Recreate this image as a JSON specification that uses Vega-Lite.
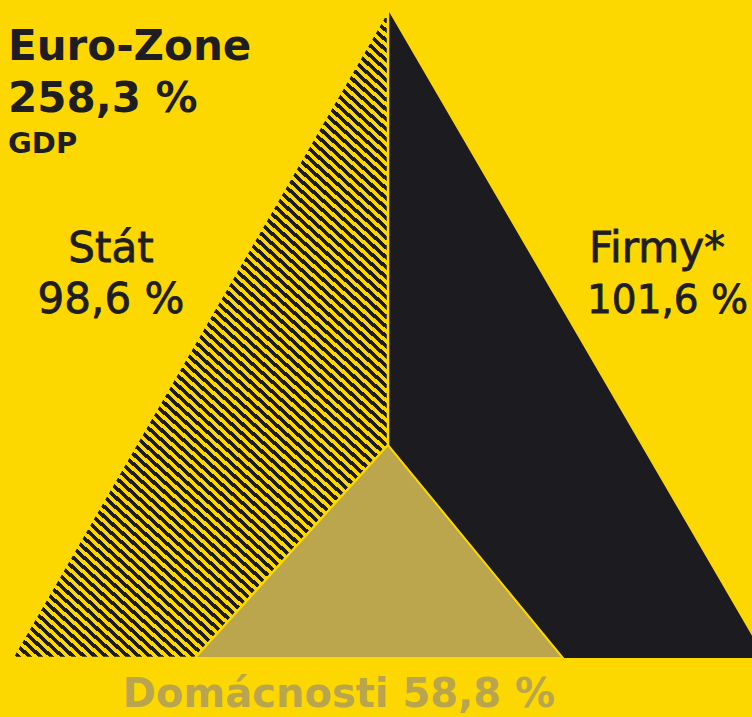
{
  "$schema": "https://vega.github.io/schema/vega-lite/v6.json",
  "width": 752,
  "height": 717,
  "autosize": {"type": "none"},
  "padding": 0,
  "background": "#fcd800",
  "config": {"view": {"stroke": null}},
  "datasets": {
    "stat": [
      {"x": 12, "top": 658, "bottom": 658},
      {"x": 195, "top": 342.6, "bottom": 658},
      {"x": 388, "top": 10, "bottom": 445}
    ],
    "firmy": [
      {"x": 388, "top": 10, "bottom": 445},
      {"x": 563, "top": 310.8, "bottom": 658},
      {"x": 765, "top": 658, "bottom": 658}
    ],
    "domacnosti": [
      {"x": 195, "top": 658, "bottom": 658},
      {"x": 388, "top": 445, "bottom": 658},
      {"x": 563, "top": 658, "bottom": 658}
    ]
  },
  "encoding": {
    "x": {"field": "x", "type": "quantitative", "scale": {"domain": [0, 752], "nice": false, "zero": false}, "axis": null},
    "y": {"field": "top", "type": "quantitative", "scale": {"domain": [717, 0], "nice": false, "zero": false}, "axis": null}
  },
  "layer": [
    {
      "data": {"name": "firmy"},
      "mark": {"type": "area", "color": "#1c1b20", "clip": true, "orient": "vertical"},
      "encoding": {"y2": {"field": "bottom"}}
    },
    {
      "data": {"name": "stat"},
      "mark": {
        "type": "area",
        "orient": "vertical",
        "stroke": "#fcd800",
        "strokeWidth": 2.5,
        "fill": {
          "gradient": "linear",
          "x1": 0, "y1": 1, "x2": 0.625, "y2": -0.196,
          "stops": [
{"offset":0,"color":"#fcd800"},{"offset":0.005,"color":"#fcd800"},{"offset":0.005,"color":"#1c1b20"},{"offset":0.01,"color":"#1c1b20"},
{"offset":0.01,"color":"#fcd800"},{"offset":0.015,"color":"#fcd800"},{"offset":0.015,"color":"#1c1b20"},{"offset":0.02,"color":"#1c1b20"},
{"offset":0.02,"color":"#fcd800"},{"offset":0.025,"color":"#fcd800"},{"offset":0.025,"color":"#1c1b20"},{"offset":0.03,"color":"#1c1b20"},
{"offset":0.03,"color":"#fcd800"},{"offset":0.035,"color":"#fcd800"},{"offset":0.035,"color":"#1c1b20"},{"offset":0.04,"color":"#1c1b20"},
{"offset":0.04,"color":"#fcd800"},{"offset":0.045,"color":"#fcd800"},{"offset":0.045,"color":"#1c1b20"},{"offset":0.05,"color":"#1c1b20"},
{"offset":0.05,"color":"#fcd800"},{"offset":0.055,"color":"#fcd800"},{"offset":0.055,"color":"#1c1b20"},{"offset":0.06,"color":"#1c1b20"},
{"offset":0.06,"color":"#fcd800"},{"offset":0.065,"color":"#fcd800"},{"offset":0.065,"color":"#1c1b20"},{"offset":0.07,"color":"#1c1b20"},
{"offset":0.07,"color":"#fcd800"},{"offset":0.075,"color":"#fcd800"},{"offset":0.075,"color":"#1c1b20"},{"offset":0.08,"color":"#1c1b20"},
{"offset":0.08,"color":"#fcd800"},{"offset":0.085,"color":"#fcd800"},{"offset":0.085,"color":"#1c1b20"},{"offset":0.09,"color":"#1c1b20"},
{"offset":0.09,"color":"#fcd800"},{"offset":0.095,"color":"#fcd800"},{"offset":0.095,"color":"#1c1b20"},{"offset":0.10,"color":"#1c1b20"},
{"offset":0.10,"color":"#fcd800"},{"offset":0.105,"color":"#fcd800"},{"offset":0.105,"color":"#1c1b20"},{"offset":0.11,"color":"#1c1b20"},
{"offset":0.11,"color":"#fcd800"},{"offset":0.115,"color":"#fcd800"},{"offset":0.115,"color":"#1c1b20"},{"offset":0.12,"color":"#1c1b20"},
{"offset":0.12,"color":"#fcd800"},{"offset":0.125,"color":"#fcd800"},{"offset":0.125,"color":"#1c1b20"},{"offset":0.13,"color":"#1c1b20"},
{"offset":0.13,"color":"#fcd800"},{"offset":0.135,"color":"#fcd800"},{"offset":0.135,"color":"#1c1b20"},{"offset":0.14,"color":"#1c1b20"},
{"offset":0.14,"color":"#fcd800"},{"offset":0.145,"color":"#fcd800"},{"offset":0.145,"color":"#1c1b20"},{"offset":0.15,"color":"#1c1b20"},
{"offset":0.15,"color":"#fcd800"},{"offset":0.155,"color":"#fcd800"},{"offset":0.155,"color":"#1c1b20"},{"offset":0.16,"color":"#1c1b20"},
{"offset":0.16,"color":"#fcd800"},{"offset":0.165,"color":"#fcd800"},{"offset":0.165,"color":"#1c1b20"},{"offset":0.17,"color":"#1c1b20"},
{"offset":0.17,"color":"#fcd800"},{"offset":0.175,"color":"#fcd800"},{"offset":0.175,"color":"#1c1b20"},{"offset":0.18,"color":"#1c1b20"},
{"offset":0.18,"color":"#fcd800"},{"offset":0.185,"color":"#fcd800"},{"offset":0.185,"color":"#1c1b20"},{"offset":0.19,"color":"#1c1b20"},
{"offset":0.19,"color":"#fcd800"},{"offset":0.195,"color":"#fcd800"},{"offset":0.195,"color":"#1c1b20"},{"offset":0.20,"color":"#1c1b20"},
{"offset":0.20,"color":"#fcd800"},{"offset":0.205,"color":"#fcd800"},{"offset":0.205,"color":"#1c1b20"},{"offset":0.21,"color":"#1c1b20"},
{"offset":0.21,"color":"#fcd800"},{"offset":0.215,"color":"#fcd800"},{"offset":0.215,"color":"#1c1b20"},{"offset":0.22,"color":"#1c1b20"},
{"offset":0.22,"color":"#fcd800"},{"offset":0.225,"color":"#fcd800"},{"offset":0.225,"color":"#1c1b20"},{"offset":0.23,"color":"#1c1b20"},
{"offset":0.23,"color":"#fcd800"},{"offset":0.235,"color":"#fcd800"},{"offset":0.235,"color":"#1c1b20"},{"offset":0.24,"color":"#1c1b20"},
{"offset":0.24,"color":"#fcd800"},{"offset":0.245,"color":"#fcd800"},{"offset":0.245,"color":"#1c1b20"},{"offset":0.25,"color":"#1c1b20"},
{"offset":0.25,"color":"#fcd800"},{"offset":0.255,"color":"#fcd800"},{"offset":0.255,"color":"#1c1b20"},{"offset":0.26,"color":"#1c1b20"},
{"offset":0.26,"color":"#fcd800"},{"offset":0.265,"color":"#fcd800"},{"offset":0.265,"color":"#1c1b20"},{"offset":0.27,"color":"#1c1b20"},
{"offset":0.27,"color":"#fcd800"},{"offset":0.275,"color":"#fcd800"},{"offset":0.275,"color":"#1c1b20"},{"offset":0.28,"color":"#1c1b20"},
{"offset":0.28,"color":"#fcd800"},{"offset":0.285,"color":"#fcd800"},{"offset":0.285,"color":"#1c1b20"},{"offset":0.29,"color":"#1c1b20"},
{"offset":0.29,"color":"#fcd800"},{"offset":0.295,"color":"#fcd800"},{"offset":0.295,"color":"#1c1b20"},{"offset":0.30,"color":"#1c1b20"},
{"offset":0.30,"color":"#fcd800"},{"offset":0.305,"color":"#fcd800"},{"offset":0.305,"color":"#1c1b20"},{"offset":0.31,"color":"#1c1b20"},
{"offset":0.31,"color":"#fcd800"},{"offset":0.315,"color":"#fcd800"},{"offset":0.315,"color":"#1c1b20"},{"offset":0.32,"color":"#1c1b20"},
{"offset":0.32,"color":"#fcd800"},{"offset":0.325,"color":"#fcd800"},{"offset":0.325,"color":"#1c1b20"},{"offset":0.33,"color":"#1c1b20"},
{"offset":0.33,"color":"#fcd800"},{"offset":0.335,"color":"#fcd800"},{"offset":0.335,"color":"#1c1b20"},{"offset":0.34,"color":"#1c1b20"},
{"offset":0.34,"color":"#fcd800"},{"offset":0.345,"color":"#fcd800"},{"offset":0.345,"color":"#1c1b20"},{"offset":0.35,"color":"#1c1b20"},
{"offset":0.35,"color":"#fcd800"},{"offset":0.355,"color":"#fcd800"},{"offset":0.355,"color":"#1c1b20"},{"offset":0.36,"color":"#1c1b20"},
{"offset":0.36,"color":"#fcd800"},{"offset":0.365,"color":"#fcd800"},{"offset":0.365,"color":"#1c1b20"},{"offset":0.37,"color":"#1c1b20"},
{"offset":0.37,"color":"#fcd800"},{"offset":0.375,"color":"#fcd800"},{"offset":0.375,"color":"#1c1b20"},{"offset":0.38,"color":"#1c1b20"},
{"offset":0.38,"color":"#fcd800"},{"offset":0.385,"color":"#fcd800"},{"offset":0.385,"color":"#1c1b20"},{"offset":0.39,"color":"#1c1b20"},
{"offset":0.39,"color":"#fcd800"},{"offset":0.395,"color":"#fcd800"},{"offset":0.395,"color":"#1c1b20"},{"offset":0.40,"color":"#1c1b20"},
{"offset":0.40,"color":"#fcd800"},{"offset":0.405,"color":"#fcd800"},{"offset":0.405,"color":"#1c1b20"},{"offset":0.41,"color":"#1c1b20"},
{"offset":0.41,"color":"#fcd800"},{"offset":0.415,"color":"#fcd800"},{"offset":0.415,"color":"#1c1b20"},{"offset":0.42,"color":"#1c1b20"},
{"offset":0.42,"color":"#fcd800"},{"offset":0.425,"color":"#fcd800"},{"offset":0.425,"color":"#1c1b20"},{"offset":0.43,"color":"#1c1b20"},
{"offset":0.43,"color":"#fcd800"},{"offset":0.435,"color":"#fcd800"},{"offset":0.435,"color":"#1c1b20"},{"offset":0.44,"color":"#1c1b20"},
{"offset":0.44,"color":"#fcd800"},{"offset":0.445,"color":"#fcd800"},{"offset":0.445,"color":"#1c1b20"},{"offset":0.45,"color":"#1c1b20"},
{"offset":0.45,"color":"#fcd800"},{"offset":0.455,"color":"#fcd800"},{"offset":0.455,"color":"#1c1b20"},{"offset":0.46,"color":"#1c1b20"},
{"offset":0.46,"color":"#fcd800"},{"offset":0.465,"color":"#fcd800"},{"offset":0.465,"color":"#1c1b20"},{"offset":0.47,"color":"#1c1b20"},
{"offset":0.47,"color":"#fcd800"},{"offset":0.475,"color":"#fcd800"},{"offset":0.475,"color":"#1c1b20"},{"offset":0.48,"color":"#1c1b20"},
{"offset":0.48,"color":"#fcd800"},{"offset":0.485,"color":"#fcd800"},{"offset":0.485,"color":"#1c1b20"},{"offset":0.49,"color":"#1c1b20"},
{"offset":0.49,"color":"#fcd800"},{"offset":0.495,"color":"#fcd800"},{"offset":0.495,"color":"#1c1b20"},{"offset":0.50,"color":"#1c1b20"},
{"offset":0.50,"color":"#fcd800"},{"offset":0.505,"color":"#fcd800"},{"offset":0.505,"color":"#1c1b20"},{"offset":0.51,"color":"#1c1b20"},
{"offset":0.51,"color":"#fcd800"},{"offset":0.515,"color":"#fcd800"},{"offset":0.515,"color":"#1c1b20"},{"offset":0.52,"color":"#1c1b20"},
{"offset":0.52,"color":"#fcd800"},{"offset":0.525,"color":"#fcd800"},{"offset":0.525,"color":"#1c1b20"},{"offset":0.53,"color":"#1c1b20"},
{"offset":0.53,"color":"#fcd800"},{"offset":0.535,"color":"#fcd800"},{"offset":0.535,"color":"#1c1b20"},{"offset":0.54,"color":"#1c1b20"},
{"offset":0.54,"color":"#fcd800"},{"offset":0.545,"color":"#fcd800"},{"offset":0.545,"color":"#1c1b20"},{"offset":0.55,"color":"#1c1b20"},
{"offset":0.55,"color":"#fcd800"},{"offset":0.555,"color":"#fcd800"},{"offset":0.555,"color":"#1c1b20"},{"offset":0.56,"color":"#1c1b20"},
{"offset":0.56,"color":"#fcd800"},{"offset":0.565,"color":"#fcd800"},{"offset":0.565,"color":"#1c1b20"},{"offset":0.57,"color":"#1c1b20"},
{"offset":0.57,"color":"#fcd800"},{"offset":0.575,"color":"#fcd800"},{"offset":0.575,"color":"#1c1b20"},{"offset":0.58,"color":"#1c1b20"},
{"offset":0.58,"color":"#fcd800"},{"offset":0.585,"color":"#fcd800"},{"offset":0.585,"color":"#1c1b20"},{"offset":0.59,"color":"#1c1b20"},
{"offset":0.59,"color":"#fcd800"},{"offset":0.595,"color":"#fcd800"},{"offset":0.595,"color":"#1c1b20"},{"offset":0.60,"color":"#1c1b20"},
{"offset":0.60,"color":"#fcd800"},{"offset":0.605,"color":"#fcd800"},{"offset":0.605,"color":"#1c1b20"},{"offset":0.61,"color":"#1c1b20"},
{"offset":0.61,"color":"#fcd800"},{"offset":0.615,"color":"#fcd800"},{"offset":0.615,"color":"#1c1b20"},{"offset":0.62,"color":"#1c1b20"},
{"offset":0.62,"color":"#fcd800"},{"offset":0.625,"color":"#fcd800"},{"offset":0.625,"color":"#1c1b20"},{"offset":0.63,"color":"#1c1b20"},
{"offset":0.63,"color":"#fcd800"},{"offset":0.635,"color":"#fcd800"},{"offset":0.635,"color":"#1c1b20"},{"offset":0.64,"color":"#1c1b20"},
{"offset":0.64,"color":"#fcd800"},{"offset":0.645,"color":"#fcd800"},{"offset":0.645,"color":"#1c1b20"},{"offset":0.65,"color":"#1c1b20"},
{"offset":0.65,"color":"#fcd800"},{"offset":0.655,"color":"#fcd800"},{"offset":0.655,"color":"#1c1b20"},{"offset":0.66,"color":"#1c1b20"},
{"offset":0.66,"color":"#fcd800"},{"offset":0.665,"color":"#fcd800"},{"offset":0.665,"color":"#1c1b20"},{"offset":0.67,"color":"#1c1b20"},
{"offset":0.67,"color":"#fcd800"},{"offset":0.675,"color":"#fcd800"},{"offset":0.675,"color":"#1c1b20"},{"offset":0.68,"color":"#1c1b20"},
{"offset":0.68,"color":"#fcd800"},{"offset":0.685,"color":"#fcd800"},{"offset":0.685,"color":"#1c1b20"},{"offset":0.69,"color":"#1c1b20"},
{"offset":0.69,"color":"#fcd800"},{"offset":0.695,"color":"#fcd800"},{"offset":0.695,"color":"#1c1b20"},{"offset":0.70,"color":"#1c1b20"},
{"offset":0.70,"color":"#fcd800"},{"offset":0.705,"color":"#fcd800"},{"offset":0.705,"color":"#1c1b20"},{"offset":0.71,"color":"#1c1b20"},
{"offset":0.71,"color":"#fcd800"},{"offset":0.715,"color":"#fcd800"},{"offset":0.715,"color":"#1c1b20"},{"offset":0.72,"color":"#1c1b20"},
{"offset":0.72,"color":"#fcd800"},{"offset":0.725,"color":"#fcd800"},{"offset":0.725,"color":"#1c1b20"},{"offset":0.73,"color":"#1c1b20"},
{"offset":0.73,"color":"#fcd800"},{"offset":0.735,"color":"#fcd800"},{"offset":0.735,"color":"#1c1b20"},{"offset":0.74,"color":"#1c1b20"},
{"offset":0.74,"color":"#fcd800"},{"offset":0.745,"color":"#fcd800"},{"offset":0.745,"color":"#1c1b20"},{"offset":0.75,"color":"#1c1b20"},
{"offset":0.75,"color":"#fcd800"},{"offset":0.755,"color":"#fcd800"},{"offset":0.755,"color":"#1c1b20"},{"offset":0.76,"color":"#1c1b20"},
{"offset":0.76,"color":"#fcd800"},{"offset":0.765,"color":"#fcd800"},{"offset":0.765,"color":"#1c1b20"},{"offset":0.77,"color":"#1c1b20"},
{"offset":0.77,"color":"#fcd800"},{"offset":0.775,"color":"#fcd800"},{"offset":0.775,"color":"#1c1b20"},{"offset":0.78,"color":"#1c1b20"},
{"offset":0.78,"color":"#fcd800"},{"offset":0.785,"color":"#fcd800"},{"offset":0.785,"color":"#1c1b20"},{"offset":0.79,"color":"#1c1b20"},
{"offset":0.79,"color":"#fcd800"},{"offset":0.795,"color":"#fcd800"},{"offset":0.795,"color":"#1c1b20"},{"offset":0.80,"color":"#1c1b20"},
{"offset":0.80,"color":"#fcd800"},{"offset":0.805,"color":"#fcd800"},{"offset":0.805,"color":"#1c1b20"},{"offset":0.81,"color":"#1c1b20"},
{"offset":0.81,"color":"#fcd800"},{"offset":0.815,"color":"#fcd800"},{"offset":0.815,"color":"#1c1b20"},{"offset":0.82,"color":"#1c1b20"},
{"offset":0.82,"color":"#fcd800"},{"offset":0.825,"color":"#fcd800"},{"offset":0.825,"color":"#1c1b20"},{"offset":0.83,"color":"#1c1b20"},
{"offset":0.83,"color":"#fcd800"},{"offset":0.835,"color":"#fcd800"},{"offset":0.835,"color":"#1c1b20"},{"offset":0.84,"color":"#1c1b20"},
{"offset":0.84,"color":"#fcd800"},{"offset":0.845,"color":"#fcd800"},{"offset":0.845,"color":"#1c1b20"},{"offset":0.85,"color":"#1c1b20"},
{"offset":0.85,"color":"#fcd800"},{"offset":0.855,"color":"#fcd800"},{"offset":0.855,"color":"#1c1b20"},{"offset":0.86,"color":"#1c1b20"},
{"offset":0.86,"color":"#fcd800"},{"offset":0.865,"color":"#fcd800"},{"offset":0.865,"color":"#1c1b20"},{"offset":0.87,"color":"#1c1b20"},
{"offset":0.87,"color":"#fcd800"},{"offset":0.875,"color":"#fcd800"},{"offset":0.875,"color":"#1c1b20"},{"offset":0.88,"color":"#1c1b20"},
{"offset":0.88,"color":"#fcd800"},{"offset":0.885,"color":"#fcd800"},{"offset":0.885,"color":"#1c1b20"},{"offset":0.89,"color":"#1c1b20"},
{"offset":0.89,"color":"#fcd800"},{"offset":0.895,"color":"#fcd800"},{"offset":0.895,"color":"#1c1b20"},{"offset":0.90,"color":"#1c1b20"},
{"offset":0.90,"color":"#fcd800"},{"offset":0.905,"color":"#fcd800"},{"offset":0.905,"color":"#1c1b20"},{"offset":0.91,"color":"#1c1b20"},
{"offset":0.91,"color":"#fcd800"},{"offset":0.915,"color":"#fcd800"},{"offset":0.915,"color":"#1c1b20"},{"offset":0.92,"color":"#1c1b20"},
{"offset":0.92,"color":"#fcd800"},{"offset":0.925,"color":"#fcd800"},{"offset":0.925,"color":"#1c1b20"},{"offset":0.93,"color":"#1c1b20"},
{"offset":0.93,"color":"#fcd800"},{"offset":0.935,"color":"#fcd800"},{"offset":0.935,"color":"#1c1b20"},{"offset":0.94,"color":"#1c1b20"},
{"offset":0.94,"color":"#fcd800"},{"offset":0.945,"color":"#fcd800"},{"offset":0.945,"color":"#1c1b20"},{"offset":0.95,"color":"#1c1b20"},
{"offset":0.95,"color":"#fcd800"},{"offset":0.955,"color":"#fcd800"},{"offset":0.955,"color":"#1c1b20"},{"offset":0.96,"color":"#1c1b20"},
{"offset":0.96,"color":"#fcd800"},{"offset":0.965,"color":"#fcd800"},{"offset":0.965,"color":"#1c1b20"},{"offset":0.97,"color":"#1c1b20"},
{"offset":0.97,"color":"#fcd800"},{"offset":0.975,"color":"#fcd800"},{"offset":0.975,"color":"#1c1b20"},{"offset":0.98,"color":"#1c1b20"},
{"offset":0.98,"color":"#fcd800"},{"offset":0.985,"color":"#fcd800"},{"offset":0.985,"color":"#1c1b20"},{"offset":0.99,"color":"#1c1b20"},
{"offset":0.99,"color":"#fcd800"},{"offset":0.995,"color":"#fcd800"},{"offset":0.995,"color":"#1c1b20"},{"offset":1,"color":"#1c1b20"}
          ]
        }
      },
      "encoding": {"y2": {"field": "bottom"}}
    },
    {
      "data": {"name": "domacnosti"},
      "mark": {"type": "area", "orient": "vertical", "color": "#bba64d", "stroke": "#fcd800", "strokeWidth": 2},
      "encoding": {"y2": {"field": "bottom"}}
    },
    {
      "data": {"values": [{"label": "Euro-Zone", "x": 8, "top": 60}, {"label": "258,3 %", "x": 8, "top": 112}]},
      "mark": {"type": "text", "align": "left", "baseline": "alphabetic", "font": "DejaVu Sans", "fontWeight": "bold", "fontSize": 42, "color": "#1e1d22"},
      "encoding": {"text": {"field": "label"}}
    },
    {
      "data": {"values": [{"label": "GDP", "x": 8, "top": 153}]},
      "mark": {"type": "text", "align": "left", "baseline": "alphabetic", "font": "DejaVu Sans", "fontWeight": "bold", "fontSize": 29, "color": "#1e1d22"},
      "encoding": {"text": {"field": "label"}}
    },
    {
      "data": {"values": [{"label": "Stát", "x": 111, "top": 262}, {"label": "98,6 %", "x": 111, "top": 313}]},
      "mark": {"type": "text", "align": "center", "baseline": "alphabetic", "font": "DejaVu Sans", "fontSize": 42, "color": "#1e1d22", "stroke": "#1e1d22", "strokeWidth": 0.8},
      "encoding": {"text": {"field": "label"}}
    },
    {
      "data": {"values": [{"label": "Firmy*", "x": 589, "top": 262}]},
      "mark": {"type": "text", "align": "left", "baseline": "alphabetic", "font": "DejaVu Sans", "fontSize": 42, "color": "#1e1d22", "stroke": "#1e1d22", "strokeWidth": 0.8},
      "encoding": {"text": {"field": "label"}}
    },
    {
      "data": {"values": [{"label": "101,6 %", "x": 587, "top": 313}]},
      "mark": {"type": "text", "align": "left", "baseline": "alphabetic", "font": "DejaVu Sans", "fontSize": 39, "color": "#1e1d22", "stroke": "#1e1d22", "strokeWidth": 0.8},
      "encoding": {"text": {"field": "label"}}
    },
    {
      "data": {"values": [{"label": "Domácnosti 58,8 %", "x": 339, "top": 707}]},
      "mark": {"type": "text", "align": "center", "baseline": "alphabetic", "font": "DejaVu Sans", "fontWeight": "bold", "fontSize": 40, "color": "#b9a54f"},
      "encoding": {"text": {"field": "label"}}
    }
  ]
}
